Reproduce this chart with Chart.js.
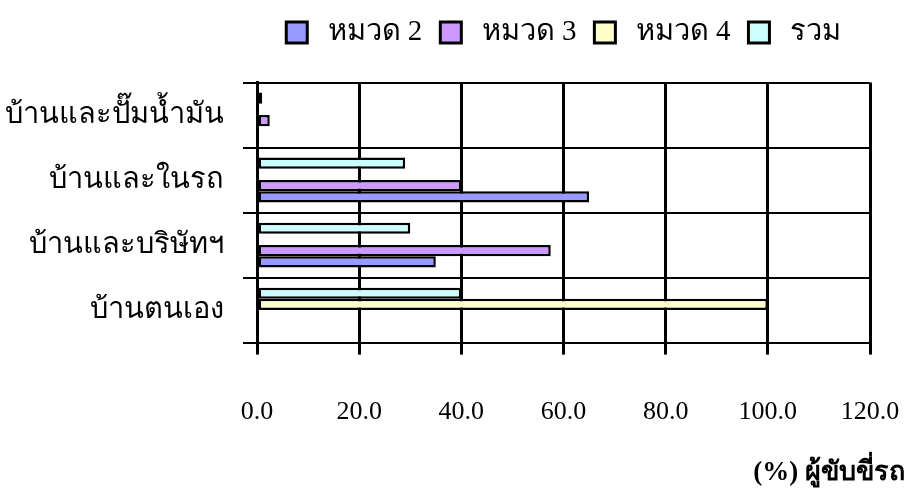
<!DOCTYPE html>
<html>
<head>
<meta charset="utf-8">
<title>ผู้ขับขี่รถ</title>
<script src="https://cdn.jsdelivr.net/npm/chart.js@4/dist/chart.umd.min.js"></script>
<style>
  html, body { margin: 0; padding: 0; background: #ffffff; }
  #wrap { width: 914px; height: 497px; }
</style>
</head>
<body>
<div id="wrap"><canvas id="c" width="914" height="497"></canvas></div>
<script>
// Categories listed bottom to top (the y axis is reversed)
const categories = ['บ้านตนเอง', 'บ้านและบริษัทฯ', 'บ้านและในรถ', 'บ้านและปั๊มน้ำมัน'];
const seriesNames = ['หมวด 2', 'หมวด 3', 'หมวด 4', 'รวม'];
const group2 = [0, 35, 65, 0];
const group3 = [0, 57.5, 40, 2.5];
const group4 = [100, 0, 0, 0];
const total = [40, 30, 29, 1];
const xTicks = [0, 20, 40, 60, 80, 100, 120];
const axisTitle = '(%) ผู้ขับขี่รถ';

const colors = ['#9999FF', '#CC99FF', '#FFFFCC', '#CCFFFF'];
const seriesValues = [group2, group3, group4, total];

const FONT = '"Liberation Serif", "Times New Roman", "DejaVu Serif", serif';

// Series are stacked inside each group from the bottom up, so the datasets
// are handed to the chart last-first and the legend flips them back.
const datasets = seriesNames.map((name, i) => ({
  label: name,
  data: seriesValues[i],
  backgroundColor: colors[i],
  borderColor: '#000000',
  borderWidth: 2.5,
  borderSkipped: false,
  categoryPercentage: 0.69,
  barPercentage: 1.0
})).reverse();

new Chart(document.getElementById('c'), {
  type: 'bar',
  data: { labels: categories, datasets },
  options: {
    responsive: false,
    animation: false,
    devicePixelRatio: 1,
    indexAxis: 'y',
    layout: { padding: { top: 0, right: 9, left: 0, bottom: 6 } },
    plugins: {
      legend: {
        position: 'top',
        fullSize: false,
        reverse: true,
        labels: {
          color: '#000000',
          font: { family: FONT, size: 29 },
          boxWidth: 21,
          boxHeight: 21,
          padding: 18,
          generateLabels(chart) {
            const items = Chart.defaults.plugins.legend.labels.generateLabels(chart);
            items.forEach(it => {
              it.lineWidth = 3;
              it.strokeStyle = '#000000';
              it.text = '\u2009' + it.text;
            });
            return items;
          }
        }
      },
      // empty spacer between the legend and the plot
      subtitle: {
        display: true,
        position: 'top',
        fullSize: false,
        weight: 500,
        text: '',
        font: { family: FONT, size: 20, lineHeight: 1 },
        padding: { top: 0, bottom: 5.5 }
      },
      title: {
        display: true,
        position: 'bottom',
        align: 'end',
        text: axisTitle,
        color: '#000000',
        font: { family: FONT, size: 27, weight: 'bold' },
        padding: { top: 4, bottom: 2 }
      },
      tooltip: { enabled: false }
    },
    scales: {
      x: {
        type: 'linear',
        min: 0,
        max: 120,
        afterBuildTicks(scale) { scale.ticks = xTicks.map(v => ({ value: v })); },
        afterFit(scale) {
          scale.height = 110;
          scale.paddingRight = 44;
          scale.paddingLeft = 0;
        },
        ticks: {
          color: '#000000',
          font: { family: FONT, size: 26 },
          padding: 42,
          maxRotation: 0,
          callback: v => Number(v).toFixed(1)
        },
        grid: {
          color: '#000000',
          lineWidth: 3,
          tickLength: 12,
          drawTicks: true
        },
        border: { display: true, color: '#000000', width: 2 }
      },
      y: {
        reverse: true,
        afterFit(scale) {
          scale.width = 257;
          scale.paddingTop = 0;
          scale.paddingBottom = 0;
        },
        ticks: {
          color: '#000000',
          font: { family: FONT, size: 29 },
          padding: 19
        },
        grid: {
          offset: true,
          color: '#000000',
          lineWidth: 2,
          tickLength: 14,
          drawTicks: true
        },
        border: { display: true, color: '#000000', width: 3 }
      }
    }
  }
});
</script>
</body>
</html>
